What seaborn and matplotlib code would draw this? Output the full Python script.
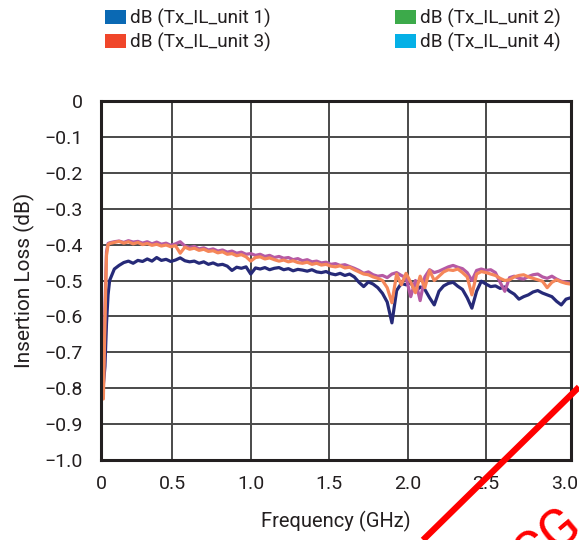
import numpy as np
import pandas as pd
import matplotlib
matplotlib.use("Agg")
import matplotlib.pyplot as plt
from matplotlib.patches import Patch
import seaborn as sns

# Sweep frequencies (GHz): dense points on the low-frequency roll-off, then a 30 MHz grid
freq_ghz = np.round(np.concatenate([[0.06, 0.07, 0.08, 0.09],
                                    np.arange(0.10, 3.0401, 0.03)]), 3)

# Insertion loss (dB) per unit
il_unit1 = [
    -0.79, -0.74, -0.62, -0.54,
    -0.500, -0.468, -0.458, -0.450, -0.446, -0.452, -0.444, -0.447, -0.440, -0.446,
    -0.436, -0.444, -0.441, -0.447, -0.443, -0.437, -0.445, -0.448, -0.446, -0.452,
    -0.448, -0.455, -0.451, -0.457, -0.455, -0.460, -0.472, -0.463, -0.466, -0.462,
    -0.482, -0.465, -0.468, -0.464, -0.470, -0.466, -0.464, -0.470, -0.467, -0.473,
    -0.469, -0.471, -0.474, -0.470, -0.476, -0.478, -0.475, -0.481, -0.484, -0.480,
    -0.486, -0.482, -0.490, -0.505, -0.517, -0.504, -0.510, -0.520, -0.536, -0.560,
    -0.618, -0.528, -0.508, -0.512, -0.505, -0.531, -0.518, -0.525, -0.548, -0.568,
    -0.530, -0.515, -0.508, -0.505, -0.516, -0.525, -0.548, -0.577, -0.530, -0.502,
    -0.510, -0.517, -0.515, -0.522, -0.518, -0.530, -0.538, -0.552, -0.545, -0.540,
    -0.532, -0.528, -0.535, -0.540, -0.545, -0.558, -0.568, -0.552, -0.548,
]
il_unit2 = [
    -0.80, -0.58, -0.42, -0.397,
    -0.395, -0.392, -0.390, -0.394, -0.389, -0.393, -0.391, -0.396, -0.392, -0.398,
    -0.393, -0.399, -0.396, -0.402, -0.398, -0.392, -0.404, -0.408, -0.405, -0.412,
    -0.409, -0.415, -0.412, -0.418, -0.415, -0.421, -0.418, -0.424, -0.421, -0.427,
    -0.425, -0.430, -0.427, -0.433, -0.430, -0.436, -0.433, -0.438, -0.436, -0.442,
    -0.439, -0.445, -0.442, -0.448, -0.446, -0.451, -0.449, -0.455, -0.453, -0.458,
    -0.456, -0.461, -0.466, -0.472, -0.480, -0.476, -0.484, -0.488, -0.486, -0.492,
    -0.482, -0.478, -0.486, -0.492, -0.545, -0.500, -0.556, -0.490, -0.470, -0.478,
    -0.474, -0.468, -0.462, -0.458, -0.463, -0.467, -0.478, -0.500, -0.472, -0.468,
    -0.472, -0.470, -0.478, -0.505, -0.530, -0.492, -0.488, -0.494, -0.496, -0.489,
    -0.484, -0.482, -0.490, -0.494, -0.488, -0.496, -0.502, -0.505, -0.508,
]
il_unit3 = [
    -0.83, -0.62, -0.43, -0.400,
    -0.397, -0.394, -0.391, -0.396, -0.392, -0.398, -0.394, -0.400, -0.397, -0.402,
    -0.399, -0.404, -0.401, -0.406, -0.403, -0.424, -0.407, -0.413, -0.410, -0.416,
    -0.413, -0.419, -0.417, -0.423, -0.420, -0.427, -0.425, -0.431, -0.428, -0.434,
    -0.446, -0.436, -0.434, -0.440, -0.437, -0.442, -0.446, -0.443, -0.448, -0.445,
    -0.450, -0.452, -0.449, -0.455, -0.452, -0.457, -0.455, -0.460, -0.462, -0.459,
    -0.465, -0.463, -0.470, -0.476, -0.482, -0.484, -0.490, -0.494, -0.500, -0.520,
    -0.562, -0.482, -0.512, -0.480, -0.505, -0.534, -0.488, -0.520, -0.472, -0.500,
    -0.488, -0.476, -0.470, -0.472, -0.468, -0.478, -0.490, -0.540, -0.482, -0.475,
    -0.478, -0.482, -0.486, -0.494, -0.500, -0.498, -0.490, -0.486, -0.484, -0.490,
    -0.494, -0.498, -0.502, -0.520, -0.505, -0.498, -0.504, -0.508, -0.510,
]

series_names = ["dB (Tx_IL_unit 1)", "dB (Tx_IL_unit 2)",
                "dB (Tx_IL_unit 3)", "dB (Tx_IL_unit 4)"]
line_colors = ["#262a78", "#b65aa4", "#f5875a"]
legend_colors = ["#0a69b4", "#3caa4a", "#f0462a", "#05b0e6"]

df = pd.DataFrame({
    "freq": np.tile(freq_ghz, 3),
    "il": il_unit1 + il_unit2 + il_unit3,
    "unit": np.repeat(series_names[:3], len(freq_ghz)),
})

sns.set_style("white")
plt.rcParams["font.family"] = ["Roboto", "DejaVu Sans"]
text_color = "#231f20"

fig = plt.figure(figsize=(5.79, 5.40), dpi=100)
ax = fig.add_axes([101 / 579, 80 / 540, 469.7 / 579, 359 / 540])

sns.lineplot(data=df, x="freq", y="il", hue="unit",
             palette=dict(zip(series_names[:3], line_colors)),
             linewidth=2.3, legend=False, ax=ax, sort=True)

ax.set_xlim(0.045, 3.04)
ax.set_ylim(-1.0, 0.0)
xticks = [0.045, 0.5, 1.0, 1.5, 2.0, 2.5, 3.0]
ax.set_xticks(xticks)
ax.set_xticklabels(["0", "0.5", "1.0", "1.5", "2.0", "2.5", "3.0"])
yticks = np.round(np.arange(0, -1.05, -0.1), 1)
ax.set_yticks(yticks)
ax.set_yticklabels(["0" if v == 0 else f"\u2212{abs(v):.1f}" for v in yticks])
ax.tick_params(axis="both", length=0, labelsize=14, colors=text_color)
ax.tick_params(axis="y", pad=13)
ax.tick_params(axis="x", pad=11)

ax.grid(True, color="#4a4a4a", linewidth=1.4)
ax.set_axisbelow(True)
ax.xaxis.get_gridlines()[-1].set_visible(False)
for s in ax.spines.values():
    s.set_visible(True)
    s.set_color(text_color)
    s.set_linewidth(2.2)

ax.set_xlabel("Frequency (GHz)", fontsize=14.5, color=text_color, labelpad=13)
ax.set_ylabel("Insertion Loss (dB)", fontsize=15, color=text_color, labelpad=7)

# two-row legend: units 1 & 2 on the first row, 3 & 4 on the second
order = [0, 2, 1, 3]
handles = [Patch(facecolor=legend_colors[i], edgecolor="none") for i in order]
labels = [series_names[i] for i in order]
fig.legend(handles, labels, ncol=2, loc="upper left",
           bbox_to_anchor=(105 / 579, 1 - 9 / 540), frameon=False, fontsize=13.7,
           handlelength=1.12, handleheight=0.75, handletextpad=0.2,
           columnspacing=6.5, labelspacing=0.25, borderpad=0, borderaxespad=0,
           labelcolor=text_color)

# red overlay stamp in the lower-right corner
fig.add_artist(plt.Line2D([423 / 579, 1.0], [0.0, 153 / 540],
                          color="#ff0000", linewidth=4.5, solid_capstyle="butt"))
fig.text(548 / 579, 0 / 540, "CG", color="#ff0000", fontsize=38,
         rotation=40, ha="center", va="center", rotation_mode="anchor")

fig.savefig("out.png", dpi=100)
